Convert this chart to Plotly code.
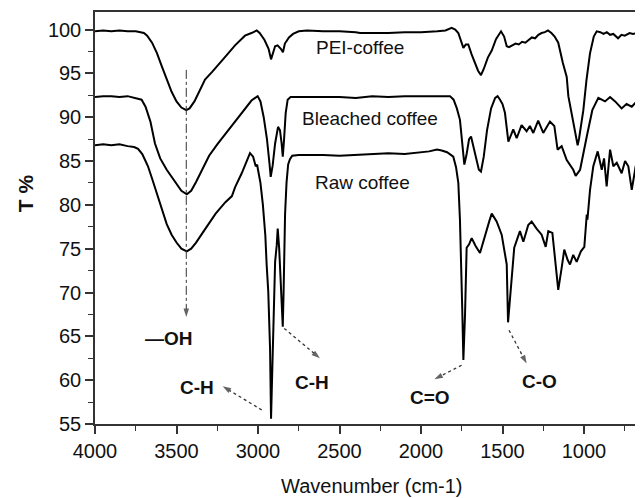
import plotly.graph_objects as go

# ---------------- data (wavenumber cm-1, transmittance %) ----------------
pei_x = [4000, 3950, 3900, 3850, 3800, 3750, 3700, 3680, 3650, 3620, 3590, 3560, 3530, 3500, 3470,
         3440, 3420, 3390, 3360, 3325, 3280, 3240, 3200, 3141, 3080, 3040, 3008, 2990, 2960, 2935,
         2920, 2905, 2895, 2880, 2860, 2847, 2835, 2810, 2785, 2750, 2700, 2600, 2500, 2400, 2374,
         2300, 2200, 2100, 2000, 1900, 1850, 1812, 1790, 1771, 1755, 1740, 1725, 1710, 1690, 1669,
         1650, 1632, 1615, 1590, 1566, 1540, 1509, 1490, 1474, 1460, 1440, 1420, 1400, 1380, 1360,
         1340, 1320, 1300, 1280, 1260, 1240, 1221, 1200, 1180, 1158, 1130, 1106, 1096, 1080, 1066,
         1050, 1039, 1030, 1018, 1004, 985, 963, 940, 922, 900, 880, 860, 840, 820, 800, 791, 770,
         750, 720, 700, 670, 640]
pei_y = [99.8, 99.9, 99.8, 99.9, 99.8, 99.8, 99.6, 99.3, 98.5, 97.3, 95.8, 94.3, 92.9, 91.8, 91.1,
         90.8, 91.0, 91.8, 92.9, 94.3, 95.2, 96.0, 96.9, 98.2, 99.3, 99.6, 99.9, 99.6, 98.8, 97.8,
         96.6, 97.5, 98.1, 98.2, 97.8, 97.4, 98.4, 99.1, 99.5, 99.8, 99.9, 99.8, 99.8, 99.7, 99.6,
         99.6, 99.6, 99.7, 99.7, 99.8, 99.9, 100.2, 100.0, 99.6, 98.8, 97.9, 98.3, 98.3, 97.2, 96.2,
         95.3, 94.8, 95.5, 96.8, 97.6, 98.9, 99.8, 99.2, 98.1, 98.0, 98.2, 98.4, 98.3, 98.6, 98.5,
         98.8, 99.1, 99.0, 99.4, 99.6, 99.7, 99.9, 99.6, 99.2, 98.5, 96.2, 94.6, 92.4, 90.9, 89.7,
         87.8, 86.8, 87.6, 89.3, 90.8, 94.2, 97.3, 99.2, 99.8, 99.7, 99.5, 99.7, 99.4, 99.5, 99.2,
         99.0, 99.4, 99.3, 99.6, 99.5, 99.6, 99.5]

bleached_x = [4000, 3950, 3900, 3850, 3800, 3750, 3714, 3690, 3660, 3632, 3600, 3560, 3530, 3500,
              3470, 3437, 3410, 3380, 3340, 3300, 3250, 3200, 3141, 3080, 3040, 3002, 2985, 2965,
              2945, 2930, 2922, 2910, 2895, 2877, 2865, 2855, 2848, 2840, 2830, 2818, 2800, 2700,
              2600, 2500, 2400, 2300, 2200, 2100, 2000, 1900, 1822, 1800, 1780, 1761, 1745, 1734,
              1720, 1705, 1693, 1680, 1660, 1645, 1632, 1615, 1595, 1570, 1545, 1530, 1515, 1500,
              1485, 1464, 1434, 1413, 1383, 1352, 1332, 1311, 1281, 1250, 1209, 1182, 1162, 1137,
              1106, 1066, 1051, 1024, 983, 949, 912, 871, 840, 809, 769, 739, 707, 677, 642]
bleached_y = [92.3, 92.4, 92.4, 92.3, 92.4, 92.2, 92.0, 91.2, 89.5, 87.0, 85.3, 84.0, 83.2, 82.3,
              81.6, 81.2, 81.6, 82.6, 84.2, 85.6, 86.9, 88.1, 89.4, 90.9, 91.9, 92.4, 91.8, 90.0,
              87.5, 84.8, 83.2, 84.5, 87.0, 88.9, 88.5, 87.0, 85.5, 87.5, 90.5, 92.0, 92.3, 92.3,
              92.3, 92.3, 92.2, 92.4, 92.3, 92.4, 92.4, 92.4, 92.4, 92.0, 91.0, 89.7, 87.0, 84.6,
              85.8, 87.5, 87.8, 86.8, 85.0, 84.0, 83.8, 85.5, 88.5, 91.0, 92.2, 92.4, 92.0, 91.5,
              90.5, 87.2, 88.6, 87.6, 89.1, 88.4, 89.0, 88.2, 89.6, 88.2, 89.5, 89.0, 86.3, 86.7,
              85.1, 84.0, 83.3, 84.0, 87.8, 90.8, 92.2, 91.8, 92.3, 91.8, 91.0, 91.5, 91.2, 91.8, 92.0]

raw_x = [4000, 3950, 3900, 3850, 3800, 3760, 3736, 3710, 3690, 3675, 3650, 3620, 3591, 3560, 3530,
         3500, 3470, 3437, 3410, 3380, 3340, 3307, 3260, 3200, 3160, 3141, 3100, 3049, 3030, 3014,
         3005, 3000, 2985, 2970, 2955, 2947, 2937, 2926, 2920, 2914, 2905, 2895, 2885, 2879, 2870,
         2860, 2852, 2848, 2843, 2838, 2834, 2825, 2815, 2804, 2790, 2750, 2600, 2500, 2400, 2300,
         2200, 2100, 2000, 1950, 1902, 1873, 1840, 1802, 1785, 1771, 1761, 1755, 1747, 1740, 1730,
         1720, 1705, 1689, 1665, 1638, 1607, 1580, 1566, 1536, 1505, 1474, 1466, 1444, 1428, 1393,
         1372, 1342, 1321, 1291, 1260, 1235, 1219, 1194, 1178, 1158, 1137, 1121, 1100, 1086, 1066,
         1045, 1019, 998, 983, 979, 963, 943, 916, 891, 877, 861, 840, 820, 799, 769, 748, 728, 707,
         683, 662, 642]
raw_y = [86.8, 86.9, 86.8, 86.9, 86.7, 86.6, 86.4, 85.8, 85.0, 84.4, 83.0, 81.2, 79.4, 77.8, 76.6,
         75.7, 75.0, 74.7, 75.0, 75.7, 76.8, 77.7, 79.0, 80.3, 81.0, 82.0, 83.6, 85.9, 85.5, 84.4,
         84.6, 84.0, 82.5, 80.0, 76.5, 73.2, 70.1, 63.6, 55.6, 60.0, 68.0, 73.5, 75.4, 77.3, 75.0,
         71.0, 67.5, 66.1, 70.0, 75.0, 78.9, 82.5, 84.6, 85.2, 85.6, 85.7, 85.7, 85.6, 85.7, 85.8,
         85.9, 85.8, 86.0, 86.1, 86.3, 86.2, 86.0, 85.5, 84.3, 82.5, 78.3, 75.0, 68.2, 62.3, 67.4,
         75.1, 75.5, 76.2, 75.3, 74.5, 76.6, 78.2, 79.0, 78.1, 76.6, 73.2, 66.6, 71.2, 75.1, 77.0,
         75.8, 77.7, 78.1, 77.3, 76.6, 75.2, 77.0, 76.8, 73.9, 70.3, 72.8, 74.9, 73.7, 73.2, 74.3,
         73.5, 74.7, 75.2, 78.9, 78.3, 81.7, 84.4, 86.1, 84.0, 85.3, 82.1, 86.3, 84.4, 84.8, 83.6,
         85.0, 84.4, 81.7, 84.4, 85.5, 85.9]

# series labels
label_text = ["PEI-coffee", "Bleached coffee", "Raw coffee"]
label_x = [2374, 2313, 2356]
label_y = [97.9, 89.9, 82.5]

# band annotations: text and its position
band_text = ["\u2014OH", "C-H", "C-H", "C=O", "C-O"]
band_x = [3546, 3374, 2671, 1945, 1270]
band_y = [64.7, 59.2, 59.7, 58.0, 59.9]

# arrows: start -> end (data coordinates)
oh_arrow_x = [3440, 3440]
oh_arrow_y = [95.4, 67.2]
ch1_arrow_x = [2977, 3217]
ch1_arrow_y = [56.6, 59.3]
ch2_arrow_x = [2839, 2620]
ch2_arrow_y = [65.9, 62.5]
co_arrow_x = [1751, 1918]
co_arrow_y = [61.7, 60.1]
c_o_arrow_x = [1460, 1352]
c_o_arrow_y = [65.7, 61.9]

x_ticks = [4000, 3500, 3000, 2500, 2000, 1500, 1000]
y_ticks = [55, 60, 65, 70, 75, 80, 85, 90, 95, 100]

FONT = "Liberation Sans, Arial, sans-serif"

fig = go.Figure()
for xs, ys in [(pei_x, pei_y), (bleached_x, bleached_y), (raw_x, raw_y)]:
    fig.add_trace(go.Scatter(x=xs, y=ys, mode="lines",
                             line=dict(color="black", width=2), showlegend=False,
                             hoverinfo="skip"))

# arrows
arrow_defs = [(oh_arrow_x, oh_arrow_y, "dashdot", 1.0),
              (ch1_arrow_x, ch1_arrow_y, "dot", 1.3),
              (ch2_arrow_x, ch2_arrow_y, "dot", 1.3),
              (co_arrow_x, co_arrow_y, "dot", 1.3),
              (c_o_arrow_x, c_o_arrow_y, "dot", 1.3)]
for ax_, ay_, dash, w in arrow_defs:
    fig.add_trace(go.Scatter(x=ax_, y=ay_, mode="lines+markers",
                             line=dict(color="#333333", width=w, dash=dash),
                             marker=dict(symbol="arrow", size=[0, 9], angleref="previous",
                                         color="#222222", line=dict(width=0)),
                             showlegend=False, hoverinfo="skip"))

annotations = []
for t, x, y in zip(label_text, label_x, label_y):
    annotations.append(dict(x=x, y=y, xref="x", yref="y", text=t, showarrow=False,
                            font=dict(family=FONT, size=19, color="#111111")))
for t, x, y in zip(band_text, band_x, band_y):
    annotations.append(dict(x=x, y=y, xref="x", yref="y", text="<b>%s</b>" % t, showarrow=False,
                            font=dict(family=FONT, size=19, color="#111111")))
annotations.append(dict(x=0.506, y=-0.150, xref="paper", yref="paper",
                        text="Wavenumber (cm-1)", showarrow=False,
                        xanchor="center", yanchor="middle",
                        font=dict(family=FONT, size=20, color="#111111")))
annotations.append(dict(x=-0.127, y=0.561, xref="paper", yref="paper",
                        text="<b>T %</b>", showarrow=False, textangle=-90,
                        xanchor="center", yanchor="middle",
                        font=dict(family=FONT, size=21, color="#111111")))

# the page body adds an 8px offset, so the figure is 8px smaller and margins compensate
fig.update_layout(
    width=635, height=490,
    margin=dict(l=87, r=0, t=4, b=74),
    paper_bgcolor="white", plot_bgcolor="white",
    annotations=annotations,
    xaxis=dict(range=[4000, 638], tickvals=x_ticks, ticks="outside", ticklen=8, tickwidth=1.5,
               tickcolor="#333333", showline=True, linecolor="#333333", linewidth=1.5,
               mirror=True, showgrid=False, zeroline=False,
               tickfont=dict(family=FONT, size=20, color="#111111"),
               minor=dict(dtick=250, tick0=0, ticks="outside", ticklen=5, tickwidth=1.2,
                          tickcolor="#333333", showgrid=False)),
    yaxis=dict(range=[55, 102], tickvals=y_ticks, ticks="outside", ticklen=8, tickwidth=1.5,
               tickcolor="#333333", showline=True, linecolor="#333333", linewidth=1.5,
               showgrid=False, zeroline=False,
               tickfont=dict(family=FONT, size=20, color="#111111"),
               minor=dict(dtick=2.5, tick0=0, ticks="outside", ticklen=5, tickwidth=1.2,
                          tickcolor="#333333", showgrid=False)),
)

fig.write_html("out.html")
